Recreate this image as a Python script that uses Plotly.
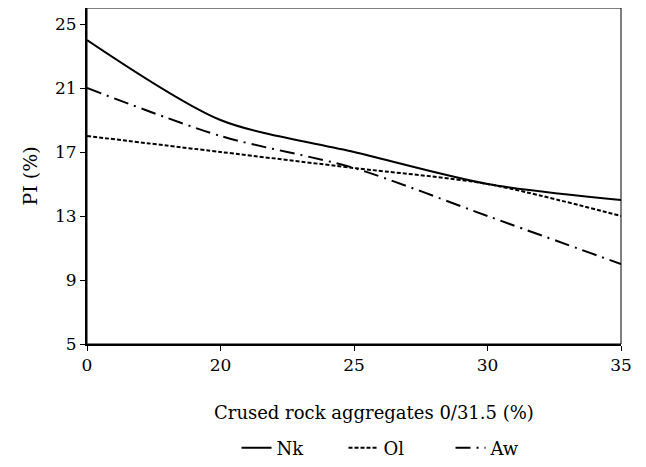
import plotly.graph_objects as go

categories = ["0", "20", "25", "30", "35"]
nk = [24, 19, 17, 15, 14]
ol = [18, 17, 16, 15, 13]
aw = [21, 18, 16, 13, 10]
y_ticks = [5, 9, 13, 17, 21, 25]

FONT = "DejaVu Serif"

fig = go.Figure()
fig.add_trace(go.Scatter(x=categories, y=nk, name="Nk", mode="lines",
                         line=dict(color="black", width=2, shape="spline", smoothing=0.8)))
fig.add_trace(go.Scatter(x=categories, y=ol, name="Ol", mode="lines",
                         line=dict(color="black", width=2, dash="4px,2px", shape="spline", smoothing=0.8)))
fig.add_trace(go.Scatter(x=categories, y=aw, name="Aw", mode="lines",
                         line=dict(color="black", width=2, dash="15px,6px,2px,6px", shape="spline", smoothing=0.8)))

fig.update_layout(
    width=638, height=459,
    margin=dict(l=79, r=25, t=0, b=119),
    paper_bgcolor="white", plot_bgcolor="white",
    font=dict(family=FONT, size=18, color="black"),
    showlegend=True,
    legend=dict(orientation="h", x=0.28, xanchor="left", y=-0.31, yanchor="middle",
                font=dict(family=FONT, size=18), tracegroupgap=0,
                entrywidth=62, entrywidthmode="pixels",
                bgcolor="rgba(0,0,0,0)"),
    xaxis=dict(type="category", range=[0, 4], showgrid=False, zeroline=False,
               showline=True, linecolor="black", linewidth=2,
               ticks="outside", ticklen=5, tickwidth=1, tickcolor="black",
               tickfont=dict(family=FONT, size=17)),
    yaxis=dict(range=[5, 26], tickvals=y_ticks, showgrid=False, zeroline=False,
               showline=True, linecolor="black", linewidth=2,
               ticks="outside", ticklen=5, tickwidth=1, tickcolor="black",
               tickfont=dict(family=FONT, size=17),
               title=dict(text="PI (%)", font=dict(family=FONT, size=19), standoff=12)),
    shapes=[dict(type="rect", xref="paper", yref="paper", x0=0, y0=0, x1=1, y1=1,
                 line=dict(color="black", width=1), fillcolor="rgba(0,0,0,0)", layer="above")],
    annotations=[dict(text="Crused rock aggregates 0/31.5 (%)", xref="paper", yref="paper",
                      x=0.538, y=-0.203, xanchor="center", yanchor="middle", showarrow=False,
                      font=dict(family=FONT, size=18))],
)

fig.write_html("out.html")
